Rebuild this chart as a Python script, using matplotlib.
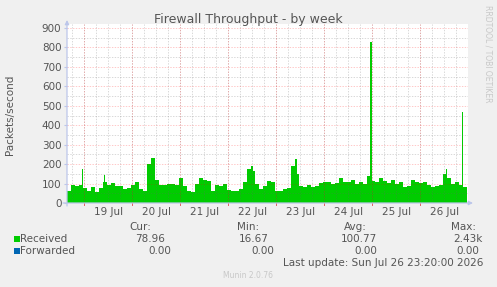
import numpy as np
import pandas as pd
import matplotlib
matplotlib.use("Agg")
import matplotlib.pyplot as plt
import matplotlib.patches as mpatches

W, H = 497, 287

END = pd.Timestamp("2026-07-26 23:20")
START = END - pd.Timedelta(hours=200)

# received packets/second, 2-hour buckets from START
received = [
    60, 90, 88, 95, 75, 62, 80, 58, 78, 110,
    90, 105, 88, 85, 70, 75, 90, 110, 70, 60,
    200, 230, 120, 90, 95, 100, 100, 95, 130, 85,
    60, 55, 100, 130, 120, 115, 60, 90, 88, 100,
    65, 62, 60, 70, 110, 175, 165, 100, 70, 85,
    115, 110, 62, 60, 72, 78, 190, 150, 85, 80,
    90, 80, 85, 105, 110, 108, 100, 105, 130, 108,
    110, 120, 100, 110, 100, 140, 115, 110, 130, 115,
    105, 120, 100, 110, 80, 85, 120, 110, 105, 110,
    95, 80, 85, 90, 150, 130, 100, 110, 90, 80,
]
forwarded = [0.0] * len(received)

# short spikes: hours after START, packets/second
spike_hours = [8, 19, 27, 60, 92.5, 114.5, 121.5, 136.5, 143, 151.75, 190, 197.75]
spike_values = [176, 142, 193, 330, 190, 228, 188, 168, 188, 830, 176, 470]
spike_widths = [0.5, 0.5, 0.5, 0.5, 1, 1, 0.5, 0.5, 0.5, 1, 0.5, 0.5]

y_ticks = [0, 100, 200, 300, 400, 500, 600, 700, 800, 900]

stats_head = ["Cur:", "Min:", "Avg:", "Max:"]
stats_recv = ["78.96", "16.67", "100.77", "2.43k"]
stats_fwd = ["0.00", "0.00", "0.00", "0.00"]

GREEN = "#00CC00"
BLUE = "#0066B3"
TXT = "#555555"
AXIS = "#BCC6EA"


def fx(x):
    return x / W


def fy(y):
    return 1 - y / H


fig = plt.figure(figsize=(W / 100, H / 100), dpi=100, facecolor="#F0F0F0")

# plot area: x 67..468 px, y 24..203 px (900 sits at y=28)
ax = fig.add_axes([fx(67), fy(203), (468 - 67) / W, (203 - 24) / H])
ax.set_facecolor("white")

t = START + pd.to_timedelta(np.arange(len(received) + 1) * 2, unit="h")
vals = received + [received[-1]]
ax.fill_between(t, vals, step="post", color=GREEN, linewidth=0, zorder=2)

sp_t = [START + pd.Timedelta(hours=h) for h in spike_hours]
sp_w = [pd.Timedelta(hours=w) / pd.Timedelta(days=1) for w in spike_widths]
ax.bar(sp_t, spike_values, width=sp_w, color=GREEN, linewidth=0, zorder=2)

ax.set_xlim(START, END + pd.Timedelta(minutes=30))
ax.set_ylim(0, 900 * 179 / 175)

# grid: red at day boundaries / every 100, grey every 6 h / every 50
days = pd.date_range(START.normalize() + pd.Timedelta(days=1), END, freq="D")
six_h = pd.date_range(START.ceil("6h"), END, freq="6h")
for d in six_h:
    ax.axvline(d, color=(0.4, 0.4, 0.4, 0.35), lw=0.5, ls=(0, (2, 2)), zorder=3)
for v in np.arange(50, 901, 100):
    ax.axhline(v, color=(0.4, 0.4, 0.4, 0.35), lw=0.5, ls=(0, (2, 2)), zorder=3)
for d in days:
    ax.axvline(d, color=(1, 0, 0, 0.3), lw=0.5, ls=(0, (2, 2)), zorder=3)
    ax.plot([d, d], [-0.012, 0], transform=ax.get_xaxis_transform(),
            color="#E06060", lw=0.7, clip_on=False, zorder=4)
for v in y_ticks[1:]:
    ax.axhline(v, color=(1, 0, 0, 0.3), lw=0.5, ls=(0, (2, 2)), zorder=3)

for s in ax.spines.values():
    s.set_visible(False)

ax.set_yticks(y_ticks)
ax.tick_params(axis="y", length=2, color=AXIS, labelsize=7.5, labelcolor=TXT, pad=2)
noons = days + pd.Timedelta(hours=12)
noons = noons[noons < END]
ax.set_xticks(noons)
ax.set_xticklabels([d.strftime("%d %b") for d in noons])
ax.tick_params(axis="x", length=0, labelsize=7.5, labelcolor=TXT, pad=3)

# axis lines with arrows
arrow = dict(arrowstyle="-|>", color=AXIS, lw=0.9, mutation_scale=6,
             shrinkA=0, shrinkB=0)
ax.annotate("", xy=(1.0 + 5 / 401, 0), xytext=(-4 / 401, 0),
            xycoords="axes fraction", arrowprops=arrow, zorder=5,
            annotation_clip=False)
ax.annotate("", xy=(0, 1.0 + 4 / 179), xytext=(0, -3 / 179),
            xycoords="axes fraction", arrowprops=arrow, zorder=5,
            annotation_clip=False)

fig.text(fx(248), fy(20), "Firewall Throughput - by week", ha="center",
         va="center", fontsize=9, color=TXT)
fig.text(fx(10), fy(115), "Packets/second", rotation=90, ha="center",
         va="center", fontsize=7.5, color=TXT)
fig.text(fx(488), fy(5), "RRDTOOL / TOBI OETIKER", rotation=270, ha="center",
         va="top", fontsize=5.5, color="#C8C8C8")

# legend block
head_right = [151, 259, 367, 476]
recv_right = [165, 269, 377, 483]
fwd_right = [171, 274, 377, 479]
for i in range(4):
    fig.text(fx(head_right[i]), fy(227), stats_head[i], ha="right",
             va="center", fontsize=7.5, color=TXT)
    fig.text(fx(recv_right[i]), fy(239), stats_recv[i], ha="right",
             va="center", fontsize=7.5, color=TXT)
    fig.text(fx(fwd_right[i]), fy(251), stats_fwd[i], ha="right",
             va="center", fontsize=7.5, color=TXT)

for name, col, y in [("Received", GREEN, 239), ("Forwarded", BLUE, 251)]:
    fig.patches.append(mpatches.Rectangle((fx(14), fy(y + 3)), 6 / W, 6 / H,
                                          transform=fig.transFigure,
                                          color=col, linewidth=0))
    fig.text(fx(20), fy(y), name, ha="left", va="center", fontsize=7.5, color=TXT)

fig.text(fx(483), fy(263), "Last update: Sun Jul 26 23:20:00 2026", ha="right",
         va="center", fontsize=7.5, color=TXT)
fig.text(fx(248), fy(275), "Munin 2.0.76", ha="center", va="center",
         fontsize=5.5, color="#C8C8C8")

fig.savefig("out.png", dpi=100, facecolor=fig.get_facecolor())
